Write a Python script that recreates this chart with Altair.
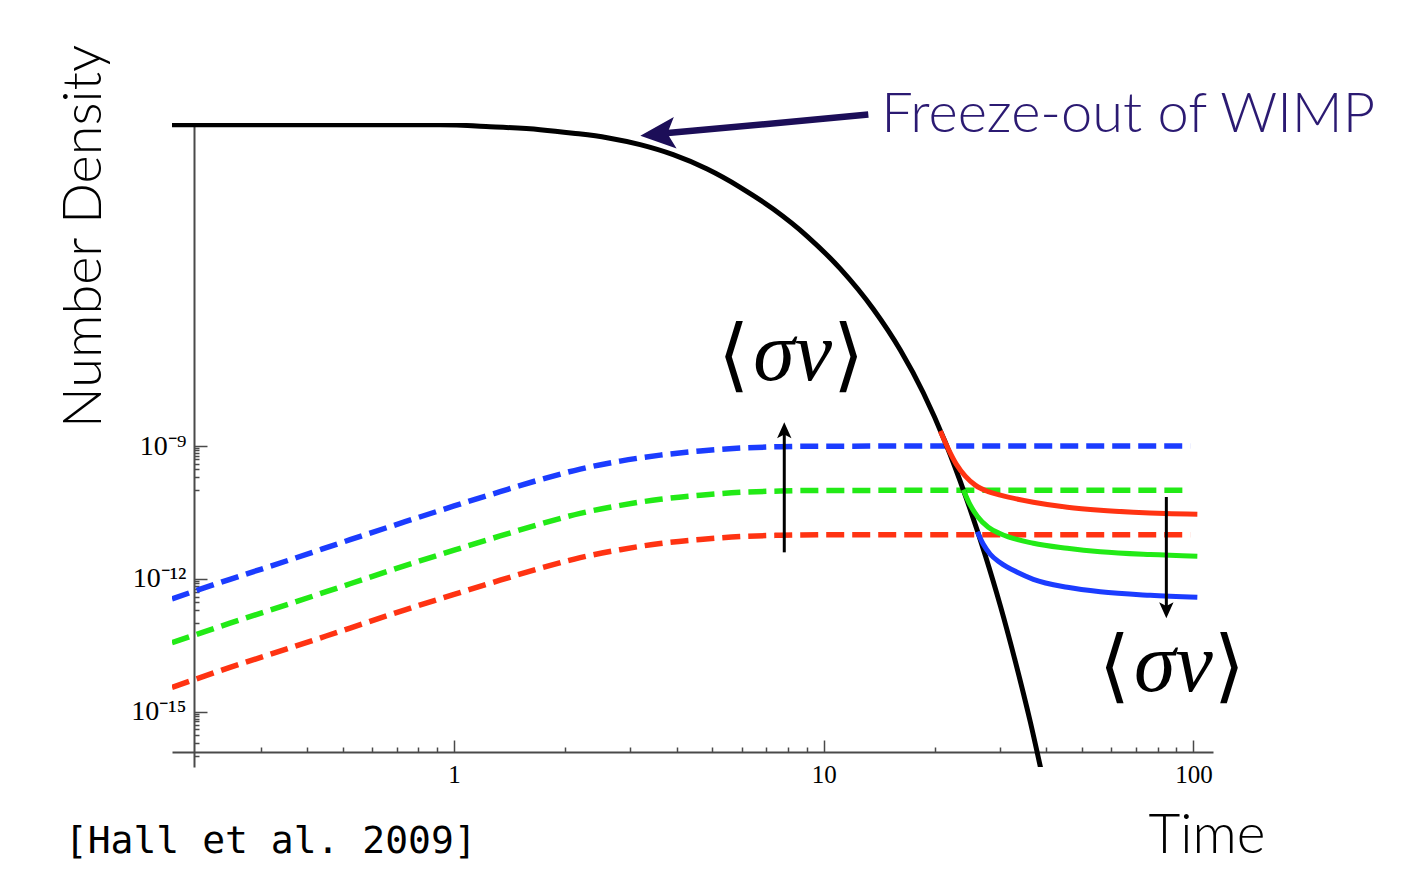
import altair as alt
import pandas as pd

# ---------------- data (n given as log10 exponents) ----------------
# equilibrium (black) curve
black_t = [0.1725, 0.383, 0.9166, 1.251, 1.709, 2.099, 2.595, 3.187, 3.914, 4.838, 5.943, 7.300,
           9.023, 11.08, 13.61, 16.11, 18.59, 21.32, 24.15, 27.36, 30.05, 32.98, 36.23, 39.77]
black_exp = [-1.738, -1.740, -1.740, -1.783, -1.851, -1.930, -2.032, -2.190, -2.416, -2.740,
             -3.152, -3.645, -4.260, -4.991, -5.903, -6.830, -7.794, -8.914, -10.113, -11.471,
             -12.609, -13.864, -15.240, -16.767]

# dashed curves
dash_t = [0.1725, 0.2475, 0.3599, 0.5232, 0.7370, 1.0, 1.332, 1.709, 2.193, 2.814, 3.611,
          4.633, 5.943, 7.626, 9.784, 16.11, 98.1]
dash_blue_exp = [-12.450, -12.009, -11.568, -11.115, -10.708, -10.353, -10.029, -9.758, -9.520,
                 -9.339, -9.204, -9.109, -9.045, -9.014, -9.002, -9.000, -9.000]
dash_green_exp = [-13.44, -13.00, -12.56, -12.11, -11.70, -11.35, -11.03, -10.76, -10.52,
                  -10.34, -10.20, -10.11, -10.045, -10.014, -10.002, -10.000, -10.000]
dash_red_exp = [-14.45, -14.00, -13.56, -13.11, -12.70, -12.35, -12.03, -11.76, -11.52,
                -11.34, -11.20, -11.11, -11.045, -11.014, -11.002, -11.000, -11.000]

# solid (freeze-out) curves
red_t = [20.67, 21.73, 22.83, 24.15, 25.70, 27.87, 30.05, 36.90, 45.60, 56.01, 68.81, 84.01, 102.5]
red_exp = [-8.661, -9.068, -9.407, -9.679, -9.882, -10.029, -10.109, -10.267, -10.380, -10.448,
           -10.493, -10.523, -10.538]
green_t = [23.85, 24.92, 26.03, 27.87, 30.05, 36.90, 45.60, 56.01, 76.47, 102.5]
green_exp = [-9.984, -10.335, -10.584, -10.833, -10.980, -11.195, -11.308, -11.387, -11.451,
             -11.489]
blue_t = [26.03, 27.02, 28.22, 30.05, 33.39, 36.90, 45.60, 56.01, 76.47, 102.5]
blue_exp = [-10.934, -11.217, -11.443, -11.636, -11.851, -12.009, -12.190, -12.292, -12.371,
            -12.416]

series_names = ["blue", "green", "red"]

# axis ticks
x_major = [1, 10, 100]
x_minor = [0.3, 0.4, 0.5, 0.6, 0.7, 0.8, 0.9, 2, 3, 4, 5, 6, 7, 8, 9, 20, 30, 40, 50, 60, 70, 80, 90]
y_major_exp = [-9, -12, -15]
y_minor_mult = [9, 8, 7, 6, 5, 4, 3, 2, 1]

# annotations (positions in data space)
freeze_t, freeze_exp, freeze_text = [14.3], [-1.91], ["Freeze-out of WIMP"]
sv_t, sv_exp = [8.14, 87.2], [-7.51, -14.54]
sv_left, sv_mid, sv_right = ["⟨", "⟨"], ["σv", "σv"], ["⟩", "⟩"]
cite_t, cite_exp, cite_text = [0.0885], [-18.19], ["[Hall et al. 2009]"]
# purple arrow: tail, head base, tip
parrow_t = [13.2, 3.72, 3.19]
parrow_exp = [-1.51, -1.934, -1.99]
# black arrows: up and down (tail, head base, tip)
uparrow_t = [7.82, 7.82, 7.82]
uparrow_exp = [-11.40, -8.68, -8.46]
downarrow_t = [84.5, 84.5, 84.5]
downarrow_exp = [-10.15, -12.67, -12.89]

# ---------------- tables ----------------
def p(e):
    return 10.0 ** e

df_black = pd.DataFrame({"t": black_t, "n": [p(e) for e in black_exp]})
rows = []
for name, ex in zip(series_names, [dash_blue_exp, dash_green_exp, dash_red_exp]):
    rows += [{"t": t, "n": p(e), "series": name} for t, e in zip(dash_t, ex)]
df_dash = pd.DataFrame(rows)
rows = []
for name, ts, ex in zip(series_names, [blue_t, green_t, red_t], [blue_exp, green_exp, red_exp]):
    rows += [{"t": t, "n": p(e), "series": name} for t, e in zip(ts, ex)]
df_solid = pd.DataFrame(rows)

def shaft(ts, es):
    return pd.DataFrame({"t": [ts[0]], "n": [p(es[0])], "t2": [ts[1]], "n2": [p(es[1])]})

def tip(ts, es):
    return pd.DataFrame({"t": [ts[2]], "n": [p(es[2])]})

df_freeze = pd.DataFrame({"t": freeze_t, "n": [p(e) for e in freeze_exp], "label": freeze_text})
df_sv = pd.DataFrame({"t": sv_t, "n": [p(e) for e in sv_exp],
                      "left": sv_left, "mid": sv_mid, "right": sv_right})
df_cite = pd.DataFrame({"t": cite_t, "n": [p(e) for e in cite_exp], "label": cite_text})

# ---------------- scales & axes ----------------
x_scale = alt.Scale(type="log", domain=[0.1725, 113], nice=False)
y_scale = alt.Scale(type="log", domain=[p(-16.25), p(-1.70)], nice=False)

y_tick_values = []
for k in y_major_exp:
    y_tick_values.append(p(k))
    y_tick_values += [m * p(k - 1) for m in y_minor_mult]

is_y_major = " || ".join([f"abs(datum.value/1e{k} - 1) < 1e-6" for k in y_major_exp])
y_label_expr = ("abs(datum.value/1e-9 - 1) < 1e-6 ? '10⁻⁹' : "
                "abs(datum.value/1e-12 - 1) < 1e-6 ? '10⁻¹²' : "
                "abs(datum.value/1e-15 - 1) < 1e-6 ? '10⁻¹⁵' : ''")
is_x_major = "datum.value == 1 || datum.value == 10 || datum.value == 100"
x_label_expr = "datum.value == 1 ? '1' : datum.value == 10 ? '10' : datum.value == 100 ? '100' : ''"

axis_color = "#4a4a4a"
x_axis = alt.Axis(
    values=sorted(x_major + x_minor), labelExpr=x_label_expr, grid=False,
    offset=-15, domainColor=axis_color, domainWidth=2, tickColor=axis_color, tickWidth=1.5,
    tickSize={"expr": f"({is_x_major}) ? -12 : -5"}, labelPadding=22,
    labelFont="Liberation Serif", labelFontSize=25, labelColor="black",
    labelOverlap=False, labelFlush=False,
    title="Time", titleX=976, titleY=100, titleAlign="left", titleBaseline="alphabetic",
    titleAngle=0, titleFont="Lato", titleFontWeight=300, titleFontSize=55, titleColor="black",
)
y_axis = alt.Axis(
    values=y_tick_values, labelExpr=y_label_expr, grid=False,
    offset=-22, domainColor=axis_color, domainWidth=2, tickColor=axis_color, tickWidth=1.5,
    tickSize={"expr": f"({is_y_major}) ? -13 : -5"}, labelPadding=21,
    labelFont="Liberation Serif", labelFontSize=28, labelColor="black", labelOverlap=False,
    labelFlush=False,
    title="Number Density", titleX=-94, titleY=113, titleAlign="center",
    titleBaseline="alphabetic", titleAngle=270, titleFont="Lato", titleFontWeight=300,
    titleFontSize=54, titleColor="black",
)

X = alt.X("t:Q", scale=x_scale, axis=x_axis)
Y = alt.Y("n:Q", scale=y_scale, axis=y_axis)
color_enc = alt.Color("series:N", scale=alt.Scale(domain=series_names,
                      range=["#1b3cff", "#22ea16", "#ff3312"]), legend=None)

dashed = alt.Chart(df_dash).mark_line(strokeWidth=5.5, strokeDash=[18, 8], clip=True,
                                     interpolate="monotone").encode(x=X, y=Y, color=color_enc)
black = alt.Chart(df_black).mark_line(strokeWidth=5, color="black", clip=True,
                                     interpolate="monotone").encode(x=X, y=Y)
solid = alt.Chart(df_solid).mark_line(strokeWidth=5, clip=True,
                                     interpolate="monotone").encode(x=X, y=Y, color=color_enc)

head_path = "M0,0 L0.9,2 L0,1.55 L-0.9,2 Z"
purple = "#1c0e58"

def arrow(ts, es, col, width, angle, size):
    sh = alt.Chart(shaft(ts, es)).mark_rule(color=col, strokeWidth=width).encode(
        x=X, y=Y, x2="t2:Q", y2="n2:Q")
    hd = alt.Chart(tip(ts, es)).mark_point(shape=head_path, filled=True, color=col, opacity=1,
                                          angle=angle, size=size, strokeWidth=0).encode(x=X, y=Y)
    return [sh, hd]

arrows = (arrow(parrow_t, parrow_exp, purple, 6.5, 265, 1225)
          + arrow(uparrow_t, uparrow_exp, "black", 3, 0, 256)
          + arrow(downarrow_t, downarrow_exp, "black", 3, 180, 256))

freeze = alt.Chart(df_freeze).mark_text(align="left", baseline="alphabetic", font="Lato",
                                        fontWeight=300, fontSize=56, color="#2b1a72").encode(
    x=X, y=Y, text="label:N")
sv_base = alt.Chart(df_sv)
sv_mid_l = sv_base.mark_text(align="center", baseline="alphabetic", font="Liberation Serif",
                             fontStyle="italic", fontSize=84, color="black", dx=2).encode(
    x=X, y=Y, text="mid:N")
sv_left_l = sv_base.mark_text(align="center", baseline="alphabetic", font="DejaVu Serif",
                              fontSize=80, color="black", dx=-57, dy=2).encode(
    x=X, y=Y, text="left:N")
sv_right_l = sv_base.mark_text(align="center", baseline="alphabetic", font="DejaVu Serif",
                               fontSize=80, color="black", dx=58, dy=2).encode(
    x=X, y=Y, text="right:N")
cite = alt.Chart(df_cite).mark_text(align="left", baseline="alphabetic", font="DejaVu Sans Mono",
                                    fontSize=38, color="black").encode(x=X, y=Y, text="label:N")

chart = alt.layer(dashed, black, solid, *arrows, freeze, sv_mid_l, sv_left_l, sv_right_l,
                  cite).properties(
    width=1041, height=644,
    padding={"left": 172, "top": 123, "right": 190, "bottom": 114},
    autosize=alt.AutoSizeParams(type="none"),
    background="white",
).configure_view(stroke=None)

chart.save("out.html", embed_options={"renderer": "svg", "actions": False})
